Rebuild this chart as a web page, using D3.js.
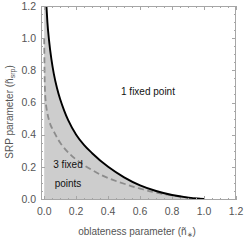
<!DOCTYPE html>
<html>
<head>
<meta charset="utf-8">
<script src="https://cdn.jsdelivr.net/npm/d3@7"></script>
<style>
  body { margin: 0; background: #fff; }
  text { font-family: "Liberation Sans", Arial, sans-serif; }
</style>
</head>
<body>
<div id="chart"></div>
<script>
// boundary of the 3-fixed-point region (solid black)
var boundaryX = [0.014, 0.02, 0.03, 0.045, 0.06, 0.08, 0.1, 0.125, 0.15, 0.2, 0.25, 0.3, 0.4, 0.5, 0.6, 0.7, 0.8, 0.9, 1.0];
var boundaryY = [1.2, 1.1, 0.99, 0.87, 0.78, 0.69, 0.62, 0.55, 0.49, 0.40, 0.335, 0.285, 0.20, 0.135, 0.085, 0.05, 0.025, 0.009, 0.0];

// dashed grey curve
var dashedX = [0.0, 0.001, 0.002, 0.004, 0.008, 0.015, 0.025, 0.04, 0.06, 0.1, 0.15, 0.2, 0.3, 0.4, 0.5, 0.6, 0.7, 0.8, 0.9, 1.0];
var dashedY = [1.0, 0.9, 0.8, 0.7, 0.62, 0.56, 0.51, 0.46, 0.42, 0.35, 0.29, 0.245, 0.18, 0.13, 0.095, 0.065, 0.04, 0.022, 0.009, 0.0];

var xTicks = [0, 0.2, 0.4, 0.6, 0.8, 1.0, 1.2];
var yTicks = [0, 0.2, 0.4, 0.6, 0.8, 1.0, 1.2];
var minorTicks = d3.range(0, 1.2001, 0.05);

var width = 245, height = 242;
var frame = { left: 41, right: 236, top: 6, bottom: 200 };

var x = d3.scaleLinear().domain([-0.02, 1.2]).range([frame.left, frame.right]);
var y = d3.scaleLinear().domain([-0.006, 1.2]).range([frame.bottom, frame.top]);

var svg = d3.select("#chart").append("svg")
    .attr("width", width)
    .attr("height", height);

var boundary = boundaryX.map(function(d, i) { return [d, boundaryY[i]]; });
var dashed = dashedX.map(function(d, i) { return [d, dashedY[i]]; });

// fill under the boundary, starting from x = 0 at the top of the range
var fillPts = [[0, y.domain()[1]]].concat(boundary);

svg.append("path")
    .datum(fillPts)
    .attr("d", d3.area()
        .x(function(d) { return x(d[0]); })
        .y0(y(0))
        .y1(function(d) { return y(d[1]); })
        .curve(d3.curveMonotoneX))
    .attr("fill", "#cdcdcd");

svg.append("path")
    .datum(dashed)
    .attr("d", d3.line()
        .x(function(d) { return x(d[0]); })
        .y(function(d) { return y(d[1]); })
        .curve(d3.curveMonotoneY))
    .attr("fill", "none")
    .attr("stroke", "#8c8c8c")
    .attr("stroke-width", 1.8)
    .attr("stroke-dasharray", "6,3.5");

svg.append("path")
    .datum(boundary)
    .attr("d", d3.line()
        .x(function(d) { return x(d[0]); })
        .y(function(d) { return y(d[1]); })
        .curve(d3.curveMonotoneX))
    .attr("fill", "none")
    .attr("stroke", "#000")
    .attr("stroke-width", 1.9);

// frame
svg.append("rect")
    .attr("x", frame.left + 0.5)
    .attr("y", frame.top + 0.5)
    .attr("width", frame.right - frame.left - 1)
    .attr("height", frame.bottom - frame.top - 1)
    .attr("fill", "none")
    .attr("stroke", "#a6a6a6")
    .attr("stroke-width", 1);

// ticks on all four sides (inward)
var tickColor = "#a6a6a6";
minorTicks.forEach(function(v) {
    var major = xTicks.some(function(t) { return Math.abs(t - v) < 1e-6; });
    var len = major ? 4 : 2;
    var px = Math.round(x(v)) + 0.5, py = Math.round(y(v)) + 0.5;
    svg.append("line").attr("x1", px).attr("x2", px)
        .attr("y1", frame.bottom).attr("y2", frame.bottom - len).attr("stroke", tickColor);
    svg.append("line").attr("x1", px).attr("x2", px)
        .attr("y1", frame.top).attr("y2", frame.top + len).attr("stroke", tickColor);
    svg.append("line").attr("y1", py).attr("y2", py)
        .attr("x1", frame.left).attr("x2", frame.left + len).attr("stroke", tickColor);
    svg.append("line").attr("y1", py).attr("y2", py)
        .attr("x1", frame.right).attr("x2", frame.right - len).attr("stroke", tickColor);
});

svg.selectAll(".xlab")
    .data(xTicks)
  .enter().append("text")
    .attr("x", function(d) { return x(d); })
    .attr("y", 215)
    .attr("text-anchor", "middle")
    .attr("font-size", 10.5)
    .attr("fill", "#555")
    .text(function(d) { return d.toFixed(1); });

svg.selectAll(".ylab")
    .data(yTicks)
  .enter().append("text")
    .attr("x", 36)
    .attr("y", function(d) { return y(d) + 3.8; })
    .attr("text-anchor", "end")
    .attr("font-size", 10.5)
    .attr("fill", "#555")
    .text(function(d) { return d.toFixed(1); });

// axis titles
var xt = svg.append("text")
    .attr("x", 137)
    .attr("y", 235)
    .attr("text-anchor", "middle")
    .attr("font-size", 10)
    .attr("fill", "#555");
xt.append("tspan").text("oblateness parameter (ñ");
xt.append("tspan").attr("font-size", 7).attr("dy", 2).text("∗");
xt.append("tspan").attr("dy", -2).text(")");

var yt = svg.append("text")
    .attr("transform", "translate(13," + 112 + ") rotate(-90)")
    .attr("text-anchor", "middle")
    .attr("font-size", 10)
    .attr("fill", "#555");
yt.append("tspan").text("SRP parameter (ñ");
yt.append("tspan").attr("font-size", 7).attr("dy", 2).text("srp");
yt.append("tspan").attr("dy", -2).text(")");

// region labels
svg.append("text")
    .attr("x", 148).attr("y", 95)
    .attr("text-anchor", "middle")
    .attr("font-size", 10)
    .attr("fill", "#111")
    .text("1 fixed point");

svg.append("text")
    .attr("x", 68).attr("y", 168)
    .attr("text-anchor", "middle")
    .attr("font-size", 10)
    .attr("fill", "#111")
    .text("3 fixed");

svg.append("text")
    .attr("x", 68).attr("y", 187)
    .attr("text-anchor", "middle")
    .attr("font-size", 10)
    .attr("fill", "#111")
    .text("points");
</script>
</body>
</html>
